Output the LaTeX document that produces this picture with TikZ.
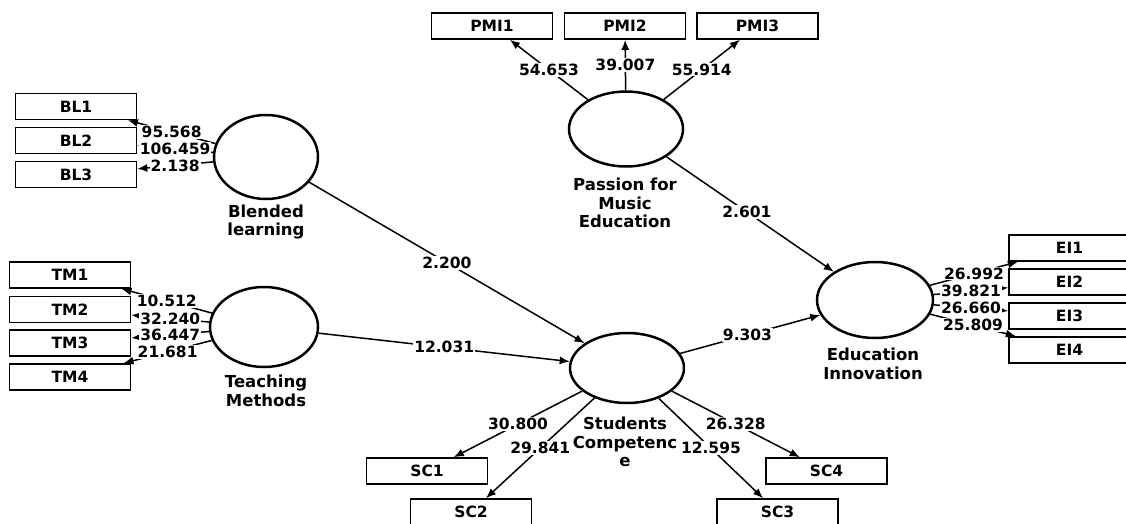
\documentclass[tikz,border=0pt]{standalone}
\usepackage{fontspec}
\setmainfont{DejaVu Sans}
\usepackage{tikz}
\usetikzlibrary{arrows.meta,shapes.geometric}

\begin{document}
\begin{tikzpicture}[x=1pt, y=-1pt, >={Latex[length=10pt,width=8pt]},
    every node/.style={font=\fontsize{15.5}{18.3}\selectfont\bfseries},
    item/.style={draw, line width=1.6pt, minimum width=121pt, minimum height=26pt, inner sep=0pt},
    latent/.style={draw, ellipse, line width=2.5pt, inner sep=0pt},
    caption/.style={align=center, font=\fontsize{16.5}{18.5}\selectfont\bfseries},
    load/.style={fill=white, inner sep=1pt, pos=0.5},
    link/.style={->, line width=1.5pt}]
    \useasboundingbox (0,0) rectangle (1126,524);
    \clip (0,0) rectangle (1126,524);
    % latent variables
    \node[latent, minimum width=104pt, minimum height=84pt] (bl) at (266,157) {};
    \node[latent, minimum width=108pt, minimum height=80pt] (tm) at (264,327) {};
    \node[latent, minimum width=114pt, minimum height=75pt] (pmi) at (626,129) {};
    \node[latent, minimum width=116pt, minimum height=76pt] (ei) at (875,300) {};
    \node[latent, minimum width=114pt, minimum height=70pt] (sc) at (627,368) {};
    \node[caption] (blname) at (266,222) {Blended\\learning};
    \node[caption] (tmname) at (266,391) {Teaching\\Methods};
    \node[caption] (pminame) at (625,203) {Passion for\\Music\\Education};
    \node[caption] (einame) at (873,364) {Education\\Innovation};
    \node[caption] (scname) at (625,442) {Students\\Competenc\\e};
    % indicators
    \node[item] (bl1) at (76,106.5) {BL1};
    \node[item] (bl2) at (76,140.5) {BL2};
    \node[item] (bl3) at (76,174.5) {BL3};
    \node[item] (tm1) at (70,275) {TM1};
    \node[item] (tm2) at (70,309.5) {TM2};
    \node[item] (tm3) at (70,343) {TM3};
    \node[item] (tm4) at (70,377) {TM4};
    \node[item] (pmi1) at (492,26) {PMI1};
    \node[item] (pmi2) at (625,26) {PMI2};
    \node[item] (pmi3) at (757.5,26) {PMI3};
    \node[item] (ei1) at (1069.5,248) {EI1};
    \node[item] (ei2) at (1069.5,282) {EI2};
    \node[item] (ei3) at (1069.5,316) {EI3};
    \node[item] (ei4) at (1069.5,350) {EI4};
    \node[item] (sc1) at (427,471) {SC1};
    \node[item] (sc2) at (471,512) {SC2};
    \node[item] (sc3) at (777.5,512) {SC3};
    \node[item] (sc4) at (826.5,471) {SC4};
    % loadings
    \draw[link] (bl) -- node[load] {95.568} (bl1);
    \draw[link] (bl) -- node[load] {106.459} (bl2);
    \draw[link] (bl) -- node[load] {2.138} (bl3);
    \draw[link] (tm) -- node[load] {10.512} (tm1);
    \draw[link] (tm) -- node[load] {32.240} (tm2);
    \draw[link] (tm) -- node[load] {36.447} (tm3);
    \draw[link] (tm) -- node[load] {21.681} (tm4);
    \draw[link] (pmi) -- node[load] {54.653} (pmi1);
    \draw[link] (pmi) -- node[load] {39.007} (pmi2);
    \draw[link] (pmi) -- node[load] {55.914} (pmi3);
    \draw[link] (ei) -- node[load] {26.992} (ei1);
    \draw[link] (ei) -- node[load] {39.821} (ei2);
    \draw[link] (ei) -- node[load] {26.660} (ei3);
    \draw[link] (ei) -- node[load] {25.809} (ei4);
    \draw[link] (sc) -- node[load] {30.800} (sc1);
    \draw[link] (sc) -- node[load] {29.841} (sc2);
    \draw[link] (sc) -- node[load] {12.595} (sc3);
    \draw[link] (sc) -- node[load] {26.328} (sc4);
    % paths
    \draw[link] (bl) -- node[load] {2.200} (sc);
    \draw[link] (tm) -- node[load] {12.031} (sc);
    \draw[link] (pmi) -- node[load, pos=0.48] {2.601} (ei);
    \draw[link] (sc) -- node[load, pos=0.48] {9.303} (ei);
\end{tikzpicture}
\end{document}
